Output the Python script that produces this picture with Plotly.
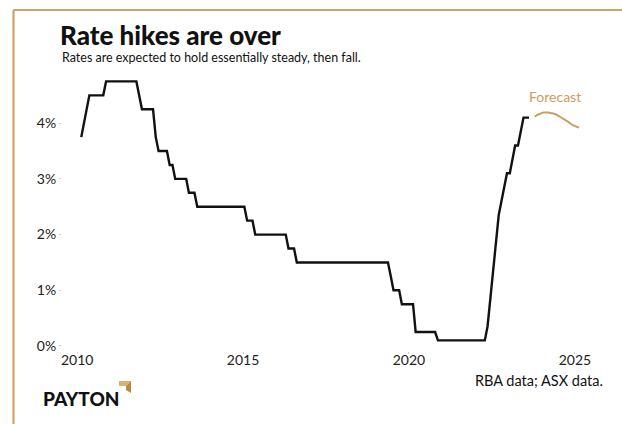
import plotly.graph_objects as go

# RBA cash rate target: corner points of the monthly series (mid-month dates)
cash_dates = [
    "2010-02-15", "2010-05-15", "2010-10-15", "2010-11-15", "2011-10-15", "2011-12-15",
    "2012-04-15", "2012-05-15", "2012-06-15", "2012-09-15", "2012-10-15", "2012-11-15",
    "2012-12-15", "2013-04-15", "2013-05-15", "2013-07-15", "2013-08-15", "2015-01-15",
    "2015-02-15", "2015-04-15", "2015-05-15", "2016-04-15", "2016-05-15", "2016-07-15",
    "2016-08-15", "2019-05-15", "2019-06-15", "2019-07-15", "2019-09-15", "2019-10-15",
    "2020-02-15", "2020-03-15", "2020-10-15", "2020-11-15", "2022-04-15", "2022-05-15",
    "2022-06-15", "2022-07-15", "2022-08-15", "2022-09-15", "2022-10-15", "2022-11-15",
    "2022-12-15", "2023-01-15", "2023-02-15", "2023-03-15", "2023-04-15", "2023-05-15",
    "2023-06-15", "2023-08-15",
]
cash_rate = [
    3.75, 4.50, 4.50, 4.75, 4.75, 4.25,
    4.25, 3.75, 3.50, 3.50, 3.25, 3.25,
    3.00, 3.00, 2.75, 2.75, 2.50, 2.50,
    2.25, 2.25, 2.00, 2.00, 1.75, 1.75,
    1.50, 1.50, 1.25, 1.00, 1.00, 0.75,
    0.75, 0.25, 0.25, 0.10, 0.10, 0.35,
    0.85, 1.35, 1.85, 2.35, 2.60, 2.85,
    3.10, 3.10, 3.35, 3.60, 3.60, 3.85,
    4.10, 4.10,
]

# ASX 30-day interbank futures implied path
fc_dates = [
    "2023-10-15", "2023-11-15", "2023-12-15", "2024-01-15", "2024-02-15", "2024-03-15",
    "2024-04-15", "2024-05-15", "2024-06-15", "2024-07-15", "2024-08-15", "2024-09-15",
    "2024-10-15", "2024-11-15", "2024-12-15", "2025-01-15", "2025-02-15",
]
fc_rate = [
    4.12, 4.15, 4.17, 4.19, 4.19, 4.19,
    4.18, 4.17, 4.15, 4.12, 4.09, 4.06,
    4.03, 3.99, 3.96, 3.94, 3.92,
]

year_ticks = ["2010-01-01", "2015-01-01", "2020-01-01", "2025-01-01"]
year_labels = ["2010", "2015", "2020", "2025"]
pct_ticks = [0, 1, 2, 3, 4]
pct_labels = ["0%", "1%", "2%", "3%", "4%"]

W, H = 622, 424
L, R, T, B = 62, 17, 70, 73
PW, PH = W - L - R, H - T - B
GOLD = "#CFA463"
FC_GOLD = "#C9A063"
FONT = "Lato"


def px(x):
    return (x - L) / PW


def py(y):
    return (H - B - y) / PH


fig = go.Figure()
fig.add_trace(go.Scatter(
    x=cash_dates, y=cash_rate, mode="lines",
    line=dict(color="#111111", width=2.4), hoverinfo="skip", showlegend=False,
))
fig.add_trace(go.Scatter(
    x=fc_dates, y=fc_rate, mode="lines",
    line=dict(color=FC_GOLD, width=2, shape="spline"), hoverinfo="skip", showlegend=False,
))

fig.update_layout(
    width=W, height=H,
    margin=dict(l=L, r=R, t=T, b=B, pad=0),
    paper_bgcolor="white", plot_bgcolor="white",
    font=dict(family=FONT, color="#222222"),
    title=dict(
        text="Rate hikes are over", xref="container", yref="container",
        x=60 / W, y=1 - 36 / H, xanchor="left", yanchor="middle",
        font=dict(family=FONT, size=26, weight=900, color="#111111"),
    ),
    xaxis=dict(
        type="date", range=["2009-07-18", "2025-11-28"],
        tickvals=year_ticks, ticktext=year_labels,
        showgrid=False, zeroline=False, showline=False,
        ticks="outside", ticklen=2, tickcolor="#cccccc",
        ticklabelstandoff=-6,
        tickfont=dict(size=14, color="#222222"),
    ),
    yaxis=dict(
        range=[-0.09, 4.955],
        tickvals=pct_ticks, ticktext=pct_labels,
        showgrid=False, zeroline=False, showline=False,
        ticks="outside", ticklen=2, tickcolor="#cccccc",
        tickfont=dict(size=14, color="#222222"),
    ),
)

annotations = [
    dict(text="Rates are expected to hold essentially steady, then fall.",
         x=px(60), y=py(57), xanchor="left", yanchor="middle",
         font=dict(size=12.5, color="#111111")),
    dict(text="Forecast", x="2024-06-01", y=py(96), yref="paper", xref="x",
         xanchor="center", yanchor="middle",
         font=dict(size=14, color=FC_GOLD)),
    dict(text="RBA data; ASX data.", x=px(605), y=py(380),
         xanchor="right", yanchor="middle",
         font=dict(size=14.5, color="#111111")),
    dict(text="PAYTON", x=px(41), y=py(398), xanchor="left", yanchor="middle",
         font=dict(size=19, weight=900, color="#111111")),
]
for a in annotations:
    a.setdefault("xref", "paper")
    a.setdefault("yref", "paper")
    a["showarrow"] = False
fig.update_layout(annotations=annotations)


def poly(points):
    return "M " + " L ".join(f"{px(x)},{py(y)}" for x, y in points) + " Z"


shapes = [
    # frame: top rule and left rule
    dict(type="line", x0=px(13.5), x1=px(640), y0=py(10), y1=py(10),
         line=dict(color=GOLD, width=2.2)),
    dict(type="line", x0=px(13.5), x1=px(13.5), y0=py(10), y1=py(440),
         line=dict(color=GOLD, width=2.2)),
    # logo corner mark
    dict(type="path", path=poly([(119, 381), (131, 381), (126, 386), (119, 386)]),
         fillcolor="#D9B36E", line=dict(width=0)),
    dict(type="path", path=poly([(131, 381), (131, 393), (126, 390), (126, 386)]),
         fillcolor="#B8893F", line=dict(width=0)),
]
for s in shapes:
    s["xref"] = "paper"
    s["yref"] = "paper"
    s["layer"] = "above"
fig.update_layout(shapes=shapes)

fig.write_html("out.html")
